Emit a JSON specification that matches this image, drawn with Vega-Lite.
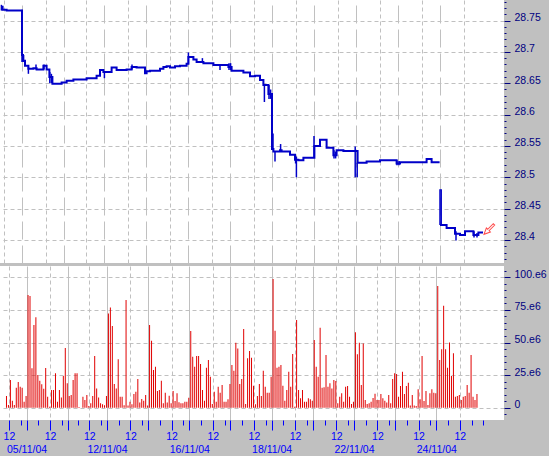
{
  "$schema": "https://vega.github.io/schema/vega-lite/v6.json",
  "background": "#c0c0c0",
  "padding": {"left": -3, "top": 0, "right": 0, "bottom": 0},
  "spacing": 3,
  "bounds": "flush",
  "config": {
    "view": {"fill": "white", "stroke": null},
    "axis": {"labelFont": "Liberation Sans", "labelFontSize": 10.5}
  },
  "datasets": {
    "price": [
      {"t": -10.5, "price": 28.772, "seg": "a"}, {"t": -9.7, "price": 28.767, "seg": "a"}, {"t": -7.7, "price": 28.766, "seg": "a"},
      {"t": 0, "price": 28.695, "seg": "a"}, {"t": 0.5, "price": 28.686, "seg": "a"}, {"t": 1.5, "price": 28.678, "seg": "a"},
      {"t": 3.2, "price": 28.673, "seg": "a"}, {"t": 5.7, "price": 28.674, "seg": "a"}, {"t": 7.3, "price": 28.672, "seg": "a"},
      {"t": 10.7, "price": 28.678, "seg": "a"}, {"t": 12.3, "price": 28.672, "seg": "a"}, {"t": 13.7, "price": 28.66, "seg": "a"},
      {"t": 15.2, "price": 28.649, "seg": "a"}, {"t": 19.8, "price": 28.651, "seg": "a"}, {"t": 22.3, "price": 28.654, "seg": "a"},
      {"t": 25.7, "price": 28.656, "seg": "a"}, {"t": 32.3, "price": 28.658, "seg": "a"}, {"t": 37.3, "price": 28.662, "seg": "a"},
      {"t": 39, "price": 28.671, "seg": "a"}, {"t": 40.7, "price": 28.668, "seg": "a"}, {"t": 44.8, "price": 28.675, "seg": "a"},
      {"t": 47.3, "price": 28.671, "seg": "a"}, {"t": 52.3, "price": 28.672, "seg": "a"}, {"t": 54.8, "price": 28.676, "seg": "a"},
      {"t": 57.3, "price": 28.675, "seg": "a"}, {"t": 61.5, "price": 28.666, "seg": "a"}, {"t": 62.3, "price": 28.669, "seg": "a"},
      {"t": 64, "price": 28.67, "seg": "a"}, {"t": 69, "price": 28.673, "seg": "a"}, {"t": 70.7, "price": 28.676, "seg": "a"},
      {"t": 72.3, "price": 28.677, "seg": "a"}, {"t": 74, "price": 28.675, "seg": "a"}, {"t": 76.5, "price": 28.677, "seg": "a"},
      {"t": 79, "price": 28.678, "seg": "a"}, {"t": 82.3, "price": 28.681, "seg": "a"}, {"t": 83.2, "price": 28.692, "seg": "a"},
      {"t": 85.7, "price": 28.688, "seg": "a"}, {"t": 87.3, "price": 28.684, "seg": "a"}, {"t": 90.7, "price": 28.682, "seg": "a"},
      {"t": 95.7, "price": 28.679, "seg": "a"}, {"t": 103.2, "price": 28.676, "seg": "a"}, {"t": 104.8, "price": 28.67, "seg": "a"},
      {"t": 110.7, "price": 28.667, "seg": "a"}, {"t": 114, "price": 28.661, "seg": "a"}, {"t": 116.5, "price": 28.662, "seg": "a"},
      {"t": 119, "price": 28.655, "seg": "a"}, {"t": 120.7, "price": 28.647, "seg": "a"}, {"t": 123.2, "price": 28.633, "seg": "a"},
      {"t": 125, "price": 28.545, "seg": "a"}, {"t": 125.7, "price": 28.541, "seg": "a"}, {"t": 129, "price": 28.543, "seg": "a"},
      {"t": 129.8, "price": 28.541, "seg": "a"}, {"t": 134, "price": 28.536, "seg": "a"}, {"t": 136.5, "price": 28.528, "seg": "a"},
      {"t": 138.2, "price": 28.527, "seg": "a"}, {"t": 140.7, "price": 28.531, "seg": "a"}, {"t": 146.2, "price": 28.55, "seg": "a"},
      {"t": 149, "price": 28.56, "seg": "a"}, {"t": 152.3, "price": 28.547, "seg": "a"}, {"t": 155.7, "price": 28.535, "seg": "a"},
      {"t": 157.3, "price": 28.543, "seg": "a"}, {"t": 160.7, "price": 28.542, "seg": "a"}, {"t": 167.8, "price": 28.523, "seg": "a"},
      {"t": 172.3, "price": 28.525, "seg": "a"}, {"t": 179, "price": 28.527, "seg": "a"}, {"t": 187.3, "price": 28.522, "seg": "a"},
      {"t": 189, "price": 28.524, "seg": "a"}, {"t": 202.3, "price": 28.529, "seg": "a"}, {"t": 204.8, "price": 28.524, "seg": "a"},
      {"t": 208.8, "price": 28.524, "seg": "a"},
      {"t": 209, "price": 28.424, "seg": "b"}, {"t": 212.3, "price": 28.419, "seg": "b"}, {"t": 216.5, "price": 28.41, "seg": "b"},
      {"t": 219, "price": 28.408, "seg": "b"}, {"t": 221.5, "price": 28.414, "seg": "b"}, {"t": 225.7, "price": 28.408, "seg": "b"},
      {"t": 228.2, "price": 28.412, "seg": "b"}, {"t": 230.5, "price": 28.412, "seg": "b"}
    ],
    "spikes": [
      {"t": -10.3, "price": 28.766, "high": 28.775}, {"t": 0, "price": 28.684, "high": 28.767}, {"t": 0.8, "price": 28.684, "high": 28.695},
      {"t": 3.2, "price": 28.665, "high": 28.676}, {"t": 7, "price": 28.672, "high": 28.68}, {"t": 11, "price": 28.672, "high": 28.68},
      {"t": 13.9, "price": 28.65, "high": 28.668}, {"t": 14.7, "price": 28.65, "high": 28.665}, {"t": 41.2, "price": 28.658, "high": 28.668},
      {"t": 55, "price": 28.672, "high": 28.68}, {"t": 61.7, "price": 28.666, "high": 28.672}, {"t": 83.2, "price": 28.681, "high": 28.699},
      {"t": 90.2, "price": 28.684, "high": 28.69}, {"t": 99, "price": 28.671, "high": 28.679}, {"t": 103.5, "price": 28.671, "high": 28.682},
      {"t": 104.3, "price": 28.671, "high": 28.682}, {"t": 121.2, "price": 28.62, "high": 28.647}, {"t": 123.5, "price": 28.625, "high": 28.647},
      {"t": 124.3, "price": 28.625, "high": 28.64}, {"t": 125, "price": 28.545, "high": 28.625}, {"t": 125.5, "price": 28.545, "high": 28.57},
      {"t": 126.5, "price": 28.525, "high": 28.541}, {"t": 129.3, "price": 28.541, "high": 28.553}, {"t": 136.8, "price": 28.522, "high": 28.533},
      {"t": 137.2, "price": 28.5, "high": 28.533}, {"t": 146, "price": 28.531, "high": 28.566}, {"t": 156, "price": 28.53, "high": 28.543},
      {"t": 156.8, "price": 28.53, "high": 28.541}, {"t": 166.6, "price": 28.5, "high": 28.549}, {"t": 167.6, "price": 28.5, "high": 28.523},
      {"t": 187.5, "price": 28.519, "high": 28.527}, {"t": 188.5, "price": 28.519, "high": 28.526}, {"t": 209, "price": 28.424, "high": 28.481},
      {"t": 209.6, "price": 28.424, "high": 28.481}, {"t": 217, "price": 28.399, "high": 28.414}, {"t": 226, "price": 28.404, "high": 28.414},
      {"t": 227.5, "price": 28.404, "high": 28.411}
    ],
    "marker": [{"t": 233.5, "price": 28.417}],
    "volume": [
      {"t": -10.5, "vol": 9.0}, {"t": -9.5, "vol": 2.1}, {"t": -8.5, "vol": 21.2}, {"t": -7.5, "vol": 5.4}, {"t": -6.5, "vol": 2.1},
      {"t": -5.5, "vol": 15.4}, {"t": -4.5, "vol": 19.7}, {"t": -3.5, "vol": 16.1}, {"t": -2.5, "vol": 15.4}, {"t": -1.5, "vol": 4.6},
      {"t": -0.5, "vol": 9.0}, {"t": 0.5, "vol": 86.4}, {"t": 1.5, "vol": 85.6}, {"t": 2.5, "vol": 30.2}, {"t": 3.5, "vol": 63.4},
      {"t": 4.5, "vol": 69.3}, {"t": 5.5, "vol": 25.1}, {"t": 6.5, "vol": 20.7}, {"t": 7.5, "vol": 17.9}, {"t": 8.5, "vol": 14.6},
      {"t": 9.5, "vol": 30.4}, {"t": 10.5, "vol": 8.5}, {"t": 11.5, "vol": 0.8}, {"t": 12.5, "vol": 13.6}, {"t": 13.5, "vol": 13.6},
      {"t": 14.5, "vol": 26.4}, {"t": 15.5, "vol": 4.6}, {"t": 16.5, "vol": 13.6}, {"t": 17.5, "vol": 7.9}, {"t": 18.5, "vol": 24.3},
      {"t": 19.5, "vol": 45.8}, {"t": 20.5, "vol": 18.7}, {"t": 21.5, "vol": 9.0}, {"t": 22.5, "vol": 9.7}, {"t": 23.5, "vol": 21.2},
      {"t": 24.5, "vol": 26.4}, {"t": 25.5, "vol": 26.4}, {"t": 26.5, "vol": 0.5}, {"t": 27.5, "vol": 0}, {"t": 28.5, "vol": 8.5},
      {"t": 29.5, "vol": 5.9}, {"t": 30.5, "vol": 9.7}, {"t": 31.5, "vol": 1.3}, {"t": 32.5, "vol": 3.4}, {"t": 33.5, "vol": 9.0},
      {"t": 34.5, "vol": 39.6}, {"t": 35.5, "vol": 14.8}, {"t": 36.5, "vol": 7.9}, {"t": 37.5, "vol": 3.4}, {"t": 38.5, "vol": 2.6},
      {"t": 39.5, "vol": 1.8}, {"t": 40.5, "vol": 9.0}, {"t": 41.5, "vol": 72.3}, {"t": 42.5, "vol": 76.9}, {"t": 43.5, "vol": 62.7},
      {"t": 44.5, "vol": 18.2}, {"t": 45.5, "vol": 14.8}, {"t": 46.5, "vol": 37.1}, {"t": 47.5, "vol": 8.5}, {"t": 48.5, "vol": 8.5},
      {"t": 49.5, "vol": 1.8}, {"t": 50.5, "vol": 82.6}, {"t": 51.5, "vol": 1.6}, {"t": 52.5, "vol": 4.6}, {"t": 53.5, "vol": 2.6},
      {"t": 54.5, "vol": 10.5}, {"t": 55.5, "vol": 12.3}, {"t": 56.5, "vol": 22.0}, {"t": 57.5, "vol": 3.9}, {"t": 58.5, "vol": 6.7},
      {"t": 59.5, "vol": 5.4}, {"t": 60.5, "vol": 9.7}, {"t": 61.5, "vol": 1.6}, {"t": 62.5, "vol": 63.4}, {"t": 63.5, "vol": 51.4},
      {"t": 64.5, "vol": 28.9}, {"t": 65.5, "vol": 31.5}, {"t": 66.5, "vol": 12.8}, {"t": 67.5, "vol": 13.6}, {"t": 68.5, "vol": 20.7},
      {"t": 69.5, "vol": 3.4}, {"t": 70.5, "vol": 11.5}, {"t": 71.5, "vol": 3.9}, {"t": 72.5, "vol": 9.2}, {"t": 73.5, "vol": 3.4},
      {"t": 74.5, "vol": 12.8}, {"t": 75.5, "vol": 5.1}, {"t": 76.5, "vol": 11.0}, {"t": 77.5, "vol": 4.1}, {"t": 78.5, "vol": 3.4},
      {"t": 79.5, "vol": 3.4}, {"t": 80.5, "vol": 4.6}, {"t": 81.5, "vol": 4.6}, {"t": 82.5, "vol": 7.7}, {"t": 83.5, "vol": 58.8},
      {"t": 84.5, "vol": 39.1}, {"t": 85.5, "vol": 31.5}, {"t": 86.5, "vol": 39.6}, {"t": 87.5, "vol": 39.6}, {"t": 88.5, "vol": 33.5},
      {"t": 89.5, "vol": 13.6}, {"t": 90.5, "vol": 5.4}, {"t": 91.5, "vol": 30.7}, {"t": 92.5, "vol": 36.6}, {"t": 93.5, "vol": 23.8},
      {"t": 94.5, "vol": 2.8}, {"t": 95.5, "vol": 12.3}, {"t": 96.5, "vol": 4.6}, {"t": 97.5, "vol": 16.1}, {"t": 98.5, "vol": 11.5},
      {"t": 99.5, "vol": 17.4}, {"t": 100.5, "vol": 4.6}, {"t": 101.5, "vol": 4.6}, {"t": 102.5, "vol": 6.4}, {"t": 103.5, "vol": 18.2},
      {"t": 104.5, "vol": 32.7}, {"t": 105.5, "vol": 28.4}, {"t": 106.5, "vol": 49.9}, {"t": 107.5, "vol": 45.5}, {"t": 108.5, "vol": 18.2},
      {"t": 109.5, "vol": 22.0}, {"t": 110.5, "vol": 60.3}, {"t": 111.5, "vol": 2.8}, {"t": 112.5, "vol": 37.9}, {"t": 113.5, "vol": 43.5},
      {"t": 114.5, "vol": 38.4}, {"t": 115.5, "vol": 16.9}, {"t": 116.5, "vol": 2.6}, {"t": 117.5, "vol": 9.0}, {"t": 118.5, "vol": 18.2},
      {"t": 119.5, "vol": 9.0}, {"t": 120.5, "vol": 28.4}, {"t": 121.5, "vol": 16.1}, {"t": 122.5, "vol": 11.5}, {"t": 123.5, "vol": 11.5},
      {"t": 124.5, "vol": 23.8}, {"t": 125.5, "vol": 98.7}, {"t": 126.5, "vol": 59.1}, {"t": 127.5, "vol": 30.7}, {"t": 128.5, "vol": 31.5},
      {"t": 129.5, "vol": 32.7}, {"t": 130.5, "vol": 16.9}, {"t": 131.5, "vol": 5.4}, {"t": 132.5, "vol": 13.6}, {"t": 133.5, "vol": 27.6},
      {"t": 134.5, "vol": 16.1}, {"t": 135.5, "vol": 41.2}, {"t": 136.5, "vol": 0.8}, {"t": 137.5, "vol": 67.3}, {"t": 138.5, "vol": 13.6},
      {"t": 139.5, "vol": 7.2}, {"t": 140.5, "vol": 13.6}, {"t": 141.5, "vol": 4.6}, {"t": 142.5, "vol": 4.6}, {"t": 143.5, "vol": 7.2},
      {"t": 144.5, "vol": 6.4}, {"t": 145.5, "vol": 5.4}, {"t": 146.5, "vol": 51.9}, {"t": 147.5, "vol": 31.5}, {"t": 148.5, "vol": 23.8},
      {"t": 149.5, "vol": 61.4}, {"t": 150.5, "vol": 15.4}, {"t": 151.5, "vol": 15.6}, {"t": 152.5, "vol": 40.4}, {"t": 153.5, "vol": 16.1},
      {"t": 154.5, "vol": 18.7}, {"t": 155.5, "vol": 14.8}, {"t": 156.5, "vol": 21.2}, {"t": 157.5, "vol": 20.5}, {"t": 158.5, "vol": 3.4},
      {"t": 159.5, "vol": 8.5}, {"t": 160.5, "vol": 11.0}, {"t": 161.5, "vol": 4.6}, {"t": 162.5, "vol": 16.1}, {"t": 163.5, "vol": 16.6},
      {"t": 164.5, "vol": 8.5}, {"t": 165.5, "vol": 2.8}, {"t": 166.5, "vol": 4.6}, {"t": 167.5, "vol": 57.8}, {"t": 168.5, "vol": 41.0},
      {"t": 169.5, "vol": 49.9}, {"t": 170.5, "vol": 17.4}, {"t": 171.5, "vol": 49.3}, {"t": 172.5, "vol": 5.9}, {"t": 173.5, "vol": 2.8},
      {"t": 174.5, "vol": 3.4}, {"t": 175.5, "vol": 4.6}, {"t": 176.5, "vol": 7.5}, {"t": 177.5, "vol": 10.8}, {"t": 178.5, "vol": 6.0},
      {"t": 179.5, "vol": 5.9}, {"t": 180.5, "vol": 10.5}, {"t": 181.5, "vol": 7.2}, {"t": 182.5, "vol": 5.4}, {"t": 183.5, "vol": 3.9},
      {"t": 184.5, "vol": 9.7}, {"t": 185.5, "vol": 3.4}, {"t": 186.5, "vol": 22.0}, {"t": 187.5, "vol": 26.4}, {"t": 188.5, "vol": 25.8},
      {"t": 189.5, "vol": 8.5}, {"t": 190.5, "vol": 16.6}, {"t": 191.5, "vol": 27.6}, {"t": 192.5, "vol": 10.5}, {"t": 193.5, "vol": 16.6},
      {"t": 194.5, "vol": 19.2}, {"t": 195.5, "vol": 1.6}, {"t": 196.5, "vol": 9.7}, {"t": 197.5, "vol": 1.6}, {"t": 198.5, "vol": 1.3},
      {"t": 199.5, "vol": 14.1}, {"t": 200.5, "vol": 6.4}, {"t": 201.5, "vol": 39.6}, {"t": 202.5, "vol": 5.1}, {"t": 203.5, "vol": 12.8},
      {"t": 204.5, "vol": 2.1}, {"t": 205.5, "vol": 11.0}, {"t": 206.5, "vol": 14.1}, {"t": 207.5, "vol": 11.5}, {"t": 208.5, "vol": 11.0},
      {"t": 209.5, "vol": 93.3}, {"t": 210.5, "vol": 36.6}, {"t": 211.5, "vol": 44.8}, {"t": 212.5, "vol": 78.2}, {"t": 213.5, "vol": 44.8},
      {"t": 214.5, "vol": 30.7}, {"t": 215.5, "vol": 50.1}, {"t": 216.5, "vol": 24.3}, {"t": 217.5, "vol": 41.7}, {"t": 218.5, "vol": 8.5},
      {"t": 219.5, "vol": 9.0}, {"t": 220.5, "vol": 9.7}, {"t": 221.5, "vol": 5.9}, {"t": 222.5, "vol": 8.5}, {"t": 223.5, "vol": 9.0},
      {"t": 224.5, "vol": 17.4}, {"t": 225.5, "vol": 11.5}, {"t": 226.5, "vol": 40.4}, {"t": 227.5, "vol": 8.5}, {"t": 228.5, "vol": 5.9},
      {"t": 229.5, "vol": 10.5}
    ]
  },
  "vconcat": [
    {
      "width": 504,
      "height": 263,
      "encoding": {
        "x": {
          "field": "t", "type": "quantitative",
          "scale": {"domain": [-11, 241], "nice": false, "zero": false},
          "axis": {
            "orient": "top", "title": null, "labels": false, "ticks": false, "domain": false,
            "values": [-9, 0, 12, 21, 32, 41, 53, 62, 74, 83, 95, 104, 116, 125, 137, 146, 158, 167, 179, 188, 200, 209, 221],
            "grid": true, "gridColor": "#c0c0c0",
            "gridDash": {"condition": {"test": "indexof([0,21,41,62,83,104,125,146,167,188,209], datum.value) >= 0", "value": [18, 6]}, "value": [4, 3]},
            "minExtent": 0, "maxExtent": 0
          }
        },
        "y": {
          "field": "price", "type": "quantitative",
          "scale": {"domain": [28.3633, 28.7827], "nice": false, "zero": false},
          "axis": {
            "orient": "right", "title": null, "domain": false,
            "values": [28.37, 28.38, 28.39, 28.4, 28.41, 28.42, 28.43, 28.44, 28.45, 28.46, 28.47, 28.48, 28.49, 28.5, 28.51, 28.52, 28.53, 28.54, 28.55, 28.56, 28.57, 28.58, 28.59, 28.6, 28.61, 28.62, 28.63, 28.64, 28.65, 28.66, 28.67, 28.68, 28.69, 28.7, 28.71, 28.72, 28.73, 28.74, 28.75, 28.76, 28.77, 28.78],
            "labelExpr": "round(datum.value*100) % 5 == 0 ? toString(round(datum.value*100)/100) : ''",
            "labelFontSize": {"condition": {"test": "round(datum.value*100) % 5 != 0", "value": 0}, "value": 10.5},
            "tickColor": "#000080",
            "tickSize": {"condition": {"test": "round(datum.value*100) % 5 != 0", "value": 2}, "value": 6},
            "grid": true, "gridColor": "#c0c0c0", "gridDash": [4, 3],
            "gridOpacity": {"condition": {"test": "round(datum.value*100) % 5 != 0", "value": 0}, "value": 1},
            "labelColor": "#000080", "labelBaseline": "alphabetic", "labelAlign": "left", "labelPadding": 4,
            "labelOverlap": false, "minExtent": 45, "maxExtent": 45
          }
        }
      },
      "layer": [
        {
          "data": {"name": "price"},
          "mark": {"type": "line", "interpolate": "step-after", "strokeWidth": 2, "color": "#0000c8"},
          "encoding": {"detail": {"field": "seg", "type": "nominal"}}
        },
        {
          "data": {"name": "spikes"},
          "mark": {"type": "rule", "strokeWidth": 1.5, "color": "#0000c8"},
          "encoding": {"y2": {"field": "high"}}
        },
        {
          "data": {"name": "marker"},
          "mark": {"type": "point", "shape": "arrow", "angle": 225, "filled": false, "color": "#ff0000", "size": 200, "strokeWidth": 1},
          "encoding": {}
        }
      ]
    },
    {
      "width": 504,
      "height": 154,
      "data": {"name": "volume"},
      "mark": {"type": "bar", "size": 1, "xOffset": 0.5, "color": "#e00000"},
      "encoding": {
        "x": {
          "field": "t", "type": "quantitative",
          "scale": {"domain": [-11, 241], "nice": false, "zero": false},
          "axis": {
            "orient": "bottom", "title": null, "domain": false,
            "values": [-9, -3, 0, 6, 12, 18, 21, 26, 32, 38, 41, 47, 53, 59, 62, 68, 74, 80, 83, 89, 95, 101, 104, 110, 116, 122, 125, 131, 137, 143, 146, 152, 158, 164, 167, 173, 179, 185, 188, 194, 200, 206, 209, 215, 221, 227, 233],
            "labelExpr": "datum.value == 0 ? ['', '05/11/04'] : datum.value == 41 ? ['', '12/11/04'] : datum.value == 83 ? ['', '16/11/04'] : datum.value == 125 ? ['', '18/11/04'] : datum.value == 167 ? ['', '22/11/04'] : datum.value == 209 ? ['', '24/11/04'] : indexof([-9,12,32,53,74,95,116,137,158,179,200,221], datum.value) >= 0 ? '12' : ''",
            "labelFontSize": {"condition": {"test": "indexof([-3,6,18,26,38,47,59,68,80,89,101,110,122,131,143,152,164,173,185,194,206,215,227,233,21,62,104,146,188], datum.value) >= 0", "value": 0}, "value": 10.5},
            "tickColor": "#0000ff",
            "tickSize": {"condition": {"test": "indexof([-3,6,18,26,38,47,59,68,80,89,101,110,122,131,143,152,164,173,185,194,206,215,227,233], datum.value) >= 0", "value": 5}, "value": 10},
            "grid": true, "gridColor": "#c0c0c0",
            "gridDash": {"condition": {"test": "indexof([0,21,41,62,83,104,125,146,167,188,209], datum.value) >= 0", "value": []}, "value": [4, 3]},
            "gridOpacity": {"condition": {"test": "indexof([-3,6,18,26,38,47,59,68,80,89,101,110,122,131,143,152,164,173,185,194,206,215,227,233], datum.value) >= 0", "value": 0}, "value": 1},
            "labelColor": "#0000ff", "labelPadding": 1, "labelLineHeight": 13, "labelFlush": false, "labelOverlap": false,
            "minExtent": 36, "maxExtent": 36
          }
        },
        "y": {
          "field": "vol", "type": "quantitative",
          "scale": {"domain": [-9.43, 108.7], "nice": false, "zero": false},
          "axis": {
            "orient": "right", "title": null, "domain": false,
            "values": [-5, 0, 5, 10, 15, 20, 25, 30, 35, 40, 45, 50, 55, 60, 65, 70, 75, 80, 85, 90, 95, 100, 105],
            "labelExpr": "datum.value % 25 == 0 ? (datum.value == 0 ? '0' : datum.value + '.e6') : ''",
            "labelFontSize": {"condition": {"test": "datum.value % 25 != 0", "value": 0}, "value": 10.5},
            "tickColor": "#000080",
            "tickSize": {"condition": {"test": "datum.value % 25 != 0", "value": 2}, "value": 6},
            "grid": true, "gridColor": "#c0c0c0", "gridDash": [4, 3],
            "gridOpacity": {"condition": {"test": "datum.value % 25 != 0 || datum.value < 0", "value": 0}, "value": 1},
            "labelColor": "#000080", "labelBaseline": "alphabetic", "labelAlign": "left", "labelPadding": 4,
            "labelOverlap": false, "minExtent": 45, "maxExtent": 45
          }
        }
      }
    }
  ]
}
